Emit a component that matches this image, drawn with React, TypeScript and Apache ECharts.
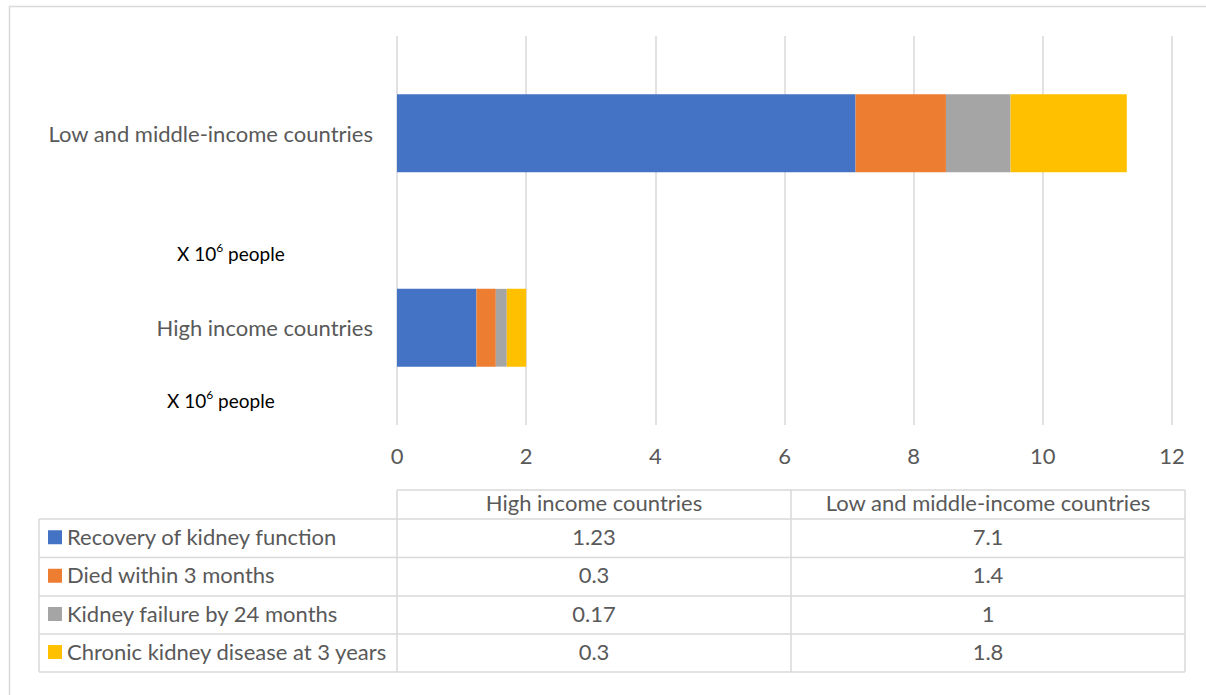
import React, { useEffect, useRef } from "react";
import * as echarts from "echarts";

const categories = ["High income countries", "Low and middle-income countries"];
const seriesNames = [
  "Recovery of kidney function",
  "Died within 3 months",
  "Kidney failure by 24 months",
  "Chronic kidney disease at 3 years",
];
const highIncomeValues = [1.23, 0.3, 0.17, 0.3];
const lowMiddleValues = [7.1, 1.4, 1, 1.8];
const seriesColors = ["#4472C4", "#ED7D31", "#A5A5A5", "#FFC000"];
const annotationBase = "X 10";
const annotationSup = "6";
const annotationTail = " people";

const FONT = "Lato";
const FS = 22;
const TEXT = "#595959";
const LINE = "#D9D9D9";

export default function App() {
  const ref = useRef<HTMLDivElement>(null);
  useEffect(() => {
    if (!ref.current) return;
    const chart = echarts.init(ref.current, undefined, { renderer: "svg" });

    const colX = [39, 397, 791, 1185];
    const headerTop = 490;
    const rowY = [519, 557.5, 596, 634, 672];
    const textShift = -2;
    const graphics: any[] = [];
    const hline = (x1: number, x2: number, y: number) =>
      graphics.push({
        type: "line",
        shape: { x1, y1: y, x2, y2: y },
        style: { stroke: LINE, lineWidth: 1.5 },
        silent: true,
      });
    const vline = (x: number, y1: number, y2: number) =>
      graphics.push({
        type: "line",
        shape: { x1: x, y1, x2: x, y2 },
        style: { stroke: LINE, lineWidth: 1.5 },
        silent: true,
      });
    graphics.push({
      type: "rect",
      shape: { x: 9.5, y: 6.5, width: 1220, height: 720 },
      style: { fill: "none", stroke: LINE, lineWidth: 1.5 },
      silent: true,
      z: -1,
    });
    hline(colX[1], colX[3], headerTop);
    rowY.forEach((y) => hline(colX[0], colX[3], y));
    vline(colX[0], rowY[0], rowY[rowY.length - 1]);
    for (let c = 1; c < colX.length; c++) vline(colX[c], headerTop, rowY[rowY.length - 1]);
    categories.forEach((cat, i) => {
      graphics.push({
        type: "text",
        x: (colX[i + 1] + colX[i + 2]) / 2,
        y: (headerTop + rowY[0]) / 2 + textShift,
        style: {
          text: cat,
          fill: TEXT,
          font: `${FS}px ${FONT}`,
          align: "center",
          verticalAlign: "middle",
        },
      });
    });
    seriesNames.forEach((name, r) => {
      const cy = (rowY[r] + rowY[r + 1]) / 2;
      graphics.push({
        type: "rect",
        shape: { x: 48, y: cy - 8, width: 14, height: 14 },
        style: { fill: seriesColors[r] },
      });
      graphics.push({
        type: "text",
        x: 67,
        y: cy + textShift,
        style: { text: name, fill: TEXT, font: `${FS}px ${FONT}`, verticalAlign: "middle" },
      });
      [highIncomeValues[r], lowMiddleValues[r]].forEach((v, c) => {
        graphics.push({
          type: "text",
          x: (colX[c + 1] + colX[c + 2]) / 2,
          y: cy + textShift,
          style: {
            text: String(v),
            fill: TEXT,
            font: `${FS}px ${FONT}`,
            align: "center",
            verticalAlign: "middle",
          },
        });
      });
    });
    const annot = (x: number, y: number) =>
      graphics.push({
        type: "text",
        x,
        y,
        style: {
          text: `{b|${annotationBase}}{s|${annotationSup}}{b|${annotationTail}}`,
          verticalAlign: "middle",
          rich: {
            b: { fontFamily: FONT, fontSize: 19, fill: "#000", lineHeight: 22, verticalAlign: "bottom" },
            s: { fontFamily: FONT, fontSize: 12, fill: "#000", lineHeight: 22, verticalAlign: "top" },
          },
        },
      });
    annot(177, 252);
    annot(167, 399);

    chart.setOption({
      animation: false,
      backgroundColor: "#fff",
      grid: { left: 397, right: 34, top: 36, height: 389 },
      xAxis: {
        type: "value",
        min: 0,
        max: 12,
        interval: 2,
        axisLine: { show: false },
        axisTick: { show: false },
        splitLine: { lineStyle: { color: LINE, width: 1.5 } },
        axisLabel: { color: TEXT, fontFamily: FONT, fontSize: FS, margin: 19 },
      },
      yAxis: {
        type: "category",
        data: categories,
        axisLine: { show: false },
        axisTick: { show: false },
        axisLabel: { color: TEXT, fontFamily: FONT, fontSize: FS, margin: 24 },
      },
      series: seriesNames.map((name, i) => ({
        type: "bar",
        name,
        stack: "total",
        barWidth: "40%",
        itemStyle: { color: seriesColors[i] },
        data: [highIncomeValues[i], lowMiddleValues[i]],
      })),
      graphic: graphics,
    });
    return () => chart.dispose();
  }, []);
  return (
    <div
      ref={ref}
      style={{ position: "fixed", left: 0, top: 0, width: 1206, height: 695, background: "#fff" }}
    />
  );
}
